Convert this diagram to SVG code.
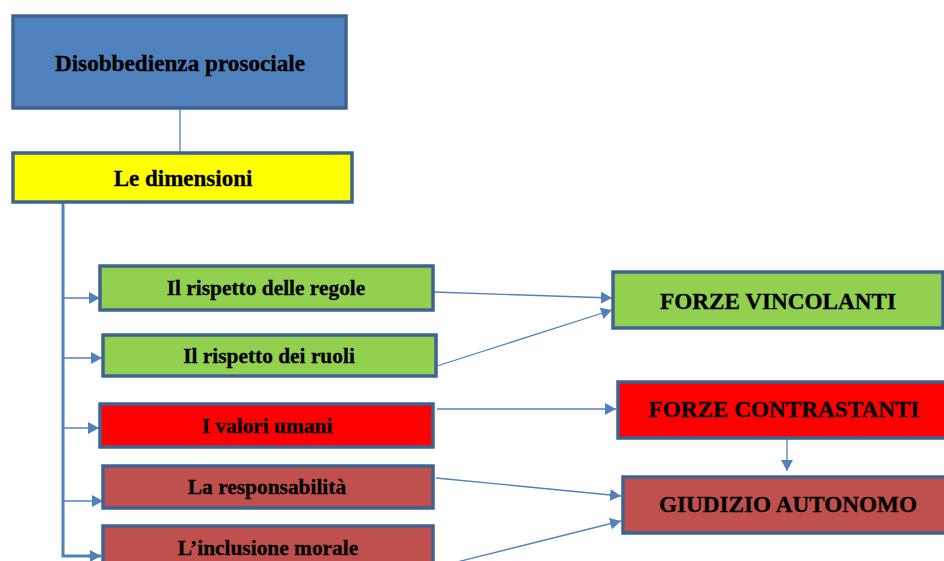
<svg xmlns="http://www.w3.org/2000/svg" width="944" height="561" viewBox="0 0 944 561">
<style>
.box{stroke:#3f6391;stroke-width:3.5}
.t{font-family:"Liberation Serif","Times New Roman",serif;font-weight:bold;fill:#000;text-anchor:middle;stroke:#000;stroke-width:0.3}
.c{fill:none;stroke:#4f81bd;stroke-width:1.3}
.trunk{fill:none;stroke:#4f81bd;stroke-width:3}
</style>
<defs>
<marker id="ah" markerUnits="userSpaceOnUse" markerWidth="11" markerHeight="12" refX="11" refY="6" orient="auto">
<path d="M0,0 L11,6 L0,12 z" fill="#4f81bd"/>
</marker>
</defs>
<g id="connectors">
<line class="c" x1="180" y1="109" x2="180" y2="153"/>
<polyline class="trunk" points="63,202 63,556 90,556"/>
<line class="c" x1="89" y1="556" x2="101" y2="556" marker-end="url(#ah)" style="stroke-width:3"/>
<line class="c" x1="63" y1="298" x2="100" y2="298" marker-end="url(#ah)"/>
<line class="c" x1="63" y1="358" x2="102" y2="358" marker-end="url(#ah)"/>
<line class="c" x1="63" y1="428" x2="99" y2="428" marker-end="url(#ah)"/>
<line class="c" x1="63" y1="501" x2="103" y2="501" marker-end="url(#ah)"/>
<line class="c" x1="433" y1="292" x2="612" y2="298" marker-end="url(#ah)"/>
<line class="c" x1="437" y1="366" x2="612" y2="310" marker-end="url(#ah)"/>
<line class="c" x1="437" y1="409" x2="616" y2="409" marker-end="url(#ah)"/>
<line class="c" x1="787" y1="438" x2="787" y2="471" marker-end="url(#ah)"/>
<line class="c" x1="436" y1="478" x2="621" y2="496" marker-end="url(#ah)"/>
<line class="c" x1="433" y1="568" x2="621" y2="521" marker-end="url(#ah)"/>
</g>
<g id="n-disobbedienza">
<rect class="box" x="13" y="16" width="333" height="92" fill="#4f81bd"/>
<text class="t" x="180" y="71" font-size="23.2">Disobbedienza prosociale</text>
</g>
<g id="n-dimensioni">
<rect class="box" x="13" y="153" width="339" height="49" fill="#ffff00"/>
<text class="t" x="183" y="186" font-size="23">Le dimensioni</text>
</g>
<g id="n-regole">
<rect class="box" x="100" y="266" width="333" height="44" fill="#92d050"/>
<text class="t" x="266" y="295" font-size="21.4">Il rispetto delle regole</text>
</g>
<g id="n-ruoli">
<rect class="box" x="103" y="335" width="333" height="41" fill="#92d050"/>
<text class="t" x="269" y="363" font-size="21.4">Il rispetto dei ruoli</text>
</g>
<g id="n-valori">
<rect class="box" x="100" y="404" width="333" height="43" fill="#ff0000"/>
<text class="t" x="267" y="433" font-size="21.4">I valori umani</text>
</g>
<g id="n-responsabilita">
<rect class="box" x="103" y="466" width="330" height="42" fill="#c0504d"/>
<text class="t" x="267" y="494" font-size="21.4">La responsabilità</text>
</g>
<g id="n-inclusione">
<rect class="box" x="103" y="526" width="330" height="50" fill="#c0504d"/>
<text class="t" x="268" y="555" font-size="21.4">L’inclusione morale</text>
</g>
<g id="n-vincolanti">
<rect class="box" x="613" y="272" width="330" height="56" fill="#92d050"/>
<text class="t" x="778" y="309" font-size="23.2">FORZE VINCOLANTI</text>
</g>
<g id="n-contrastanti">
<rect class="box" x="618" y="382" width="334" height="56" fill="#ff0000"/>
<text class="t" x="784" y="417" font-size="23.2">FORZE CONTRASTANTI</text>
</g>
<g id="n-giudizio">
<rect class="box" x="623" y="477" width="330" height="56" fill="#c0504d"/>
<text class="t" x="788" y="512" font-size="23.2">GIUDIZIO AUTONOMO</text>
</g>
</svg>
